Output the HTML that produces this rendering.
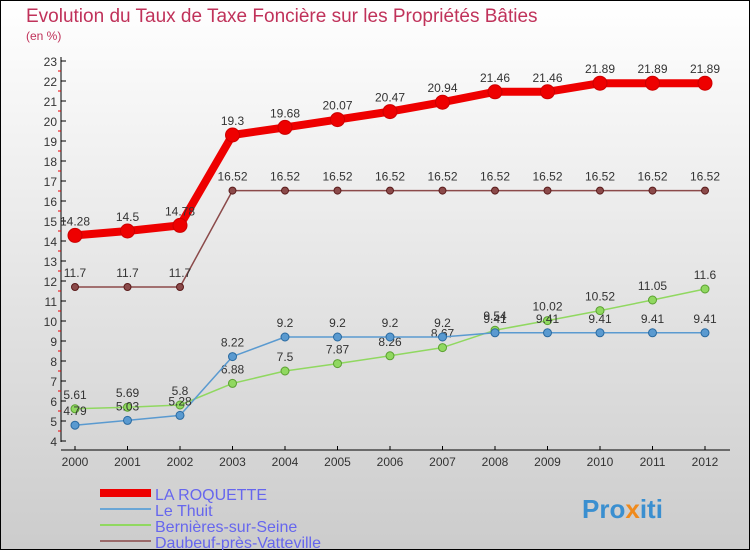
<!DOCTYPE html>
<html><head><meta charset="utf-8"><style>
body{margin:0;}
#c{width:750px;height:550px;position:relative;overflow:hidden;}
svg text{font-family:"Liberation Sans",sans-serif;}
</style></head><body>
<div id="c">
<svg id="s" width="750" height="550" xmlns="http://www.w3.org/2000/svg">
<defs><linearGradient id="bg" x1="0" y1="0" x2="0" y2="1"><stop offset="0" stop-color="#ffffff"/><stop offset="1" stop-color="#cccccc"/></linearGradient></defs>
<rect x="0.5" y="0.5" width="749" height="549" fill="url(#bg)" stroke="#000"/>
<text x="26" y="22" font-size="19" fill="#c0325a">Evolution du Taux de Taxe Foncière sur les Propriétés Bâties</text>
<text x="26" y="40" font-size="12" fill="#c0325a">(en %)</text>
<g id="axes"></g><g id="series"></g><g id="legend"></g>
<text x="582" y="518" font-size="26" font-weight="bold" fill="#3a8fd0">Pro<tspan fill="#f08a1c">x</tspan>iti</text>
</svg></div>
<script>
const years=["2000","2001","2002","2003","2004","2005","2006","2007","2008","2009","2010","2011","2012"];
const yTicks=[4,5,6,7,8,9,10,11,12,13,14,15,16,17,18,19,20,21,22,23];
const laRoquette=[14.28,14.5,14.78,19.3,19.68,20.07,20.47,20.94,21.46,21.46,21.89,21.89,21.89];
const leThuit=[4.79,5.03,5.28,8.22,9.2,9.2,9.2,9.2,9.41,9.41,9.41,9.41,9.41];
const bernieres=[5.61,5.69,5.8,6.88,7.5,7.87,8.26,8.67,9.54,10.02,10.52,11.05,11.6];
const daubeuf=[11.7,11.7,11.7,16.52,16.52,16.52,16.52,16.52,16.52,16.52,16.52,16.52,16.52];
const NS="http://www.w3.org/2000/svg";
const X=i=>75+i*52.5, Y=v=>61+(23-v)*20;
function mk(p,t,a){const e=document.createElementNS(NS,t);for(const k in a)e.setAttribute(k,a[k]);p.appendChild(e);return e;}
const ax=document.getElementById('axes');
let l=mk(ax,'line',{x1:61,y1:57,x2:61,y2:442,stroke:'#000'});


l=mk(ax,'line',{x1:61,y1:450,x2:730,y2:450,stroke:'#000'});


yTicks.forEach(v=>{
 mk(ax,'line',{x1:61,y1:Y(v),x2:66,y2:Y(v),stroke:'#000'});
 if(v<23)mk(ax,'line',{x1:58,y1:Y(v+0.5),x2:61,y2:Y(v+0.5),stroke:'#e00'});
 const t=mk(ax,'text',{x:57,y:Y(v)+5,'font-size':12,'text-anchor':'end',fill:'#333'});t.textContent=v;
 
 
});
years.forEach((y,i)=>{
 mk(ax,'line',{x1:X(i),y1:446,x2:X(i),y2:450,stroke:'#000'});
 const t=mk(ax,'text',{x:X(i),y:466,'font-size':12,'text-anchor':'middle',fill:'#333'});t.textContent=y;
 
 
});
const sg=document.getElementById('series');
function draw(vals,color,w,r,name,dark){
 const g=mk(sg,'g',{});
 
 
 mk(g,'polyline',{points:vals.map((v,i)=>X(i)+','+Y(v)).join(' '),fill:'none',stroke:color,'stroke-width':w,'stroke-linejoin':'round'});
 vals.forEach((v,i)=>{
  const c=mk(g,'circle',{cx:X(i),cy:Y(v),r:r,fill:color,stroke:dark,'stroke-width':1});
  
  
  const t=mk(g,'text',{x:X(i),y:Y(v)-10,'font-size':12,'text-anchor':'middle',fill:'#333'});t.textContent=v;
  
  
 });
}
draw(daubeuf,'#8b4a4a',1.5,3.5,'daubeuf-series','#5a1a1a');
draw(bernieres,'#90d860',1.5,4,'bernieres-series','#5aa030');
draw(leThuit,'#5a9ad0',1.5,4,'le-thuit-series','#2a6aa0');
draw(laRoquette,'#ee0000',8,7,'la-roquette-series','#cc0000');
const lg=document.getElementById('legend');
const items=[["LA ROQUETTE","#ee0000",8],["Le Thuit","#6aa6d6",2],["Bernières-sur-Seine","#90d860",2],["Daubeuf-près-Vatteville","#9b6a6a",2]];
items.forEach((it,i)=>{
 const y=493+i*16;
 const g=mk(lg,'g',{});
 
 
 mk(g,'line',{x1:100,y1:y,x2:151,y2:y,stroke:it[1],'stroke-width':it[2]});
 const t=mk(g,'text',{x:155,y:y+7,'font-size':16,fill:'#6666ee'});t.textContent=it[0];
});
</script>
</body></html>
